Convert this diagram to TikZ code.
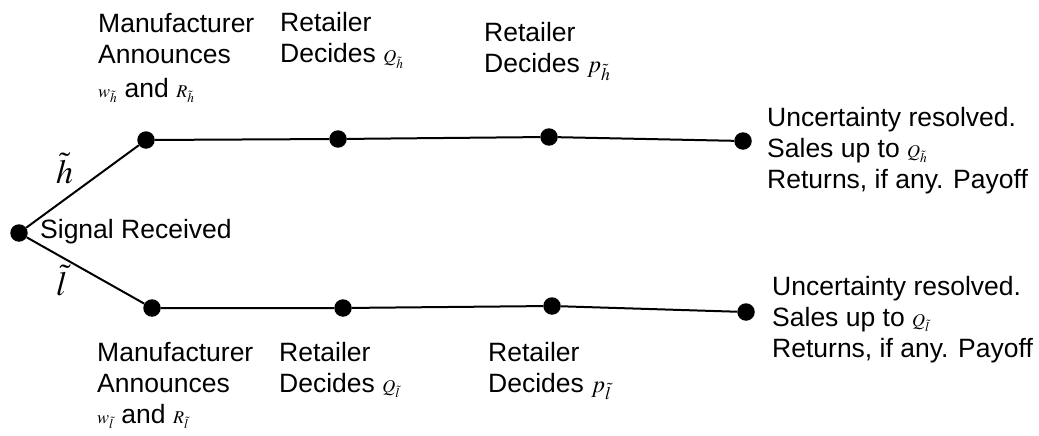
\documentclass[tikz,border=0pt]{standalone}
\usepackage{mathptmx}
\usepackage{fontspec}
\setmainfont{Liberation Sans}
\newcommand{\smm}[1]{{\fontsize{18}{20}\selectfont$#1$}}
\newcommand{\bgm}[1]{{\fontsize{24}{26}\selectfont$#1$}}
\newcommand{\hgm}[1]{{\fontsize{34}{36}\selectfont$#1$}}
\begin{document}
\begin{tikzpicture}[x=1pt,y=-1pt,
  dot/.style={circle,fill=black,inner sep=0pt,minimum size=17.5pt},
  conn/.style={line width=2pt},
  lbl/.style={anchor=base west,inner sep=0pt,align=left,font=\fontsize{26.5}{31}\selectfont}]
\useasboundingbox (0,0) rectangle (1039,436);
% dots
\node[dot] (root) at (19,233) {};
\node[dot] (u1) at (146,140) {};
\node[dot] (u2) at (338,139) {};
\node[dot] (u3) at (549,137) {};
\node[dot] (u4) at (743,141) {};
\node[dot] (l1) at (152,308) {};
\node[dot] (l2) at (343,308) {};
\node[dot] (l3) at (552,306) {};
\node[dot] (l4) at (746,312) {};
% connectors
\draw[conn] (root) -- (u1);
\draw[conn] (root) -- (l1);
\draw[conn] (u1) -- (u2) -- (u3) -- (u4);
\draw[conn] (l1) -- (l2) -- (l3) -- (l4);
% labels (anchored at the baseline of the last line)
\node[lbl] (hlab) at (56,183) {\hgm{\tilde h}};
\node[lbl] (llab) at (56,295) {\hgm{\tilde l}};
\node[lbl] (sig) at (40,238) {Signal Received};
\node[lbl] (mu) at (98,97) {Manufacturer\\Announces\\[3pt] \smm{w_{\tilde h}} and \smm{R_{\tilde h}}};
\node[lbl] (rqu) at (280,63) {Retailer\\Decides \smm{Q_{\tilde h}}};
\node[lbl] (rpu) at (484,73) {Retailer\\Decides \bgm{p_{\tilde h}}};
\node[lbl] (unu) at (767,188) {Uncertainty resolved.\\Sales up to \smm{Q_{\tilde h}}\\Returns, if any. Payoff};
\node[lbl] (ml) at (97,423) {Manufacturer\\Announces\\ \smm{w_{\tilde l}} and \smm{R_{\tilde l}}};
\node[lbl] (rql) at (279,392) {Retailer\\Decides \smm{Q_{\tilde l}}};
\node[lbl] (rpl) at (488,392) {Retailer\\Decides \bgm{p_{\tilde l}}};
\node[lbl] (unl) at (772,357) {Uncertainty resolved.\\Sales up to \smm{Q_{\tilde l}}\\Returns, if any. Payoff};
\end{tikzpicture}
\end{document}
